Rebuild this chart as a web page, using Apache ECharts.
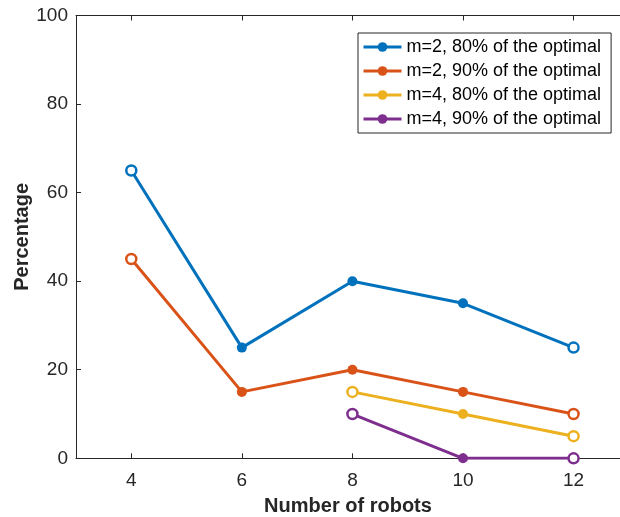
<!DOCTYPE html>
<html>
<head>
<meta charset="utf-8">
<script src="https://cdn.jsdelivr.net/npm/echarts@6/dist/echarts.min.js"></script>
<style>html,body{margin:0;padding:0;background:#fff;}#c{width:620px;height:517px;}</style>
</head>
<body>
<div id="c"></div>
<script>
var xValues = [4, 6, 8, 10, 12];
var seriesNames = ['m=2, 80% of the optimal', 'm=2, 90% of the optimal', 'm=4, 80% of the optimal', 'm=4, 90% of the optimal'];
var s1 = [[4, 65], [6, 25], [8, 40], [10, 35], [12, 25]];
var s2 = [[4, 45], [6, 15], [8, 20], [10, 15], [12, 10]];
var s3 = [[8, 15], [10, 10], [12, 5]];
var s4 = [[8, 10], [10, 0], [12, 0]];
var colors = ['#0072BD', '#D95319', '#EDB120', '#7E2F8E'];
var allData = [s1, s2, s3, s4];
var font = 'Liberation Sans, Arial, Helvetica, sans-serif';

var series = allData.map(function (d, i) {
  return {
    name: seriesNames[i],
    type: 'line',
    symbol: 'circle',
    symbolSize: 10,
    lineStyle: { color: colors[i], width: 3 },
    itemStyle: { color: colors[i] },
    z: 10 - i,
    data: d.map(function (p, j) {
      var end = (j === 0 || j === d.length - 1);
      return end ? { value: p, itemStyle: { color: '#fff', borderColor: colors[i], borderWidth: 2.5 } } : { value: p };
    })
  };
});

var chart = echarts.init(document.getElementById('c'), null, { renderer: 'canvas' });
chart.setOption({
  animation: false,
  backgroundColor: '#fff',
  grid: { left: 76, right: 0, top: 15.5, bottom: 58.7, containLabel: false, outerBoundsMode: 'none' },
  legend: {
    orient: 'vertical',
    left: 358, top: 33,
    itemWidth: 38, itemHeight: 12, itemGap: 6,
    padding: [5, 10, 5, 4],
    borderColor: '#262626', borderWidth: 1, backgroundColor: '#fff',
    lineStyle: { width: 3 },
    textStyle: { fontFamily: font, fontSize: 18, color: '#000' },
    data: seriesNames
  },
  xAxis: [{
    type: 'value', min: 3, max: 12.84,
    name: 'Number of robots', nameLocation: 'middle', nameGap: 38, nameMoveOverlap: false,
    nameTextStyle: { fontFamily: font, fontSize: 20, fontWeight: 'bold', color: '#262626' },
    axisLine: { lineStyle: { color: '#262626', width: 1 } },
    axisTick: { inside: true, length: 5, lineStyle: { color: '#262626' }, customValues: xValues },
    axisLabel: { fontFamily: font, fontSize: 19, color: '#262626', margin: 13, customValues: xValues },
    splitLine: { show: false }
  }, {
    type: 'value', min: 3, max: 12.84, position: 'top',
    axisLine: { show: true, lineStyle: { color: '#262626', width: 1 } },
    axisTick: { show: true, inside: true, length: 5, lineStyle: { color: '#262626' }, customValues: xValues },
    axisLabel: { show: false },
    splitLine: { show: false }
  }],
  yAxis: [{
    type: 'value', min: 0, max: 100, interval: 20,
    name: 'Percentage', nameLocation: 'middle', nameGap: 44, nameMoveOverlap: false,
    nameTextStyle: { fontFamily: font, fontSize: 20, fontWeight: 'bold', color: '#262626' },
    axisLine: { show: true, lineStyle: { color: '#262626', width: 1 } },
    axisTick: { show: true, inside: true, length: 5, lineStyle: { color: '#262626' } },
    axisLabel: { fontFamily: font, fontSize: 19, color: '#262626', margin: 8 },
    splitLine: { show: false }
  }],
  series: series
});
</script>
</body>
</html>
